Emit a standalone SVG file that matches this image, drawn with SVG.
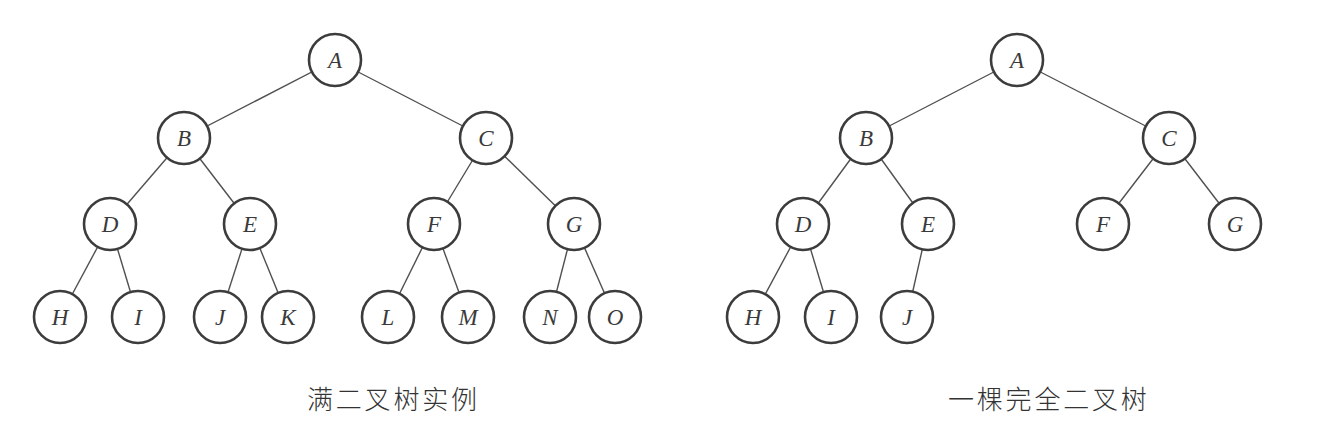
<svg xmlns="http://www.w3.org/2000/svg" width="1332" height="434" viewBox="0 0 1332 434">
<style>
.e{stroke:#505050;stroke-width:1.4;fill:none}
.n circle{fill:#fff;stroke:#3c3c3c;stroke-width:2.6}
.n text{font-family:"Liberation Serif","DejaVu Serif",serif;font-style:italic;font-size:23px;fill:#3a3a3a;text-anchor:middle;dominant-baseline:central}
.cap{font-family:"Noto Sans CJK SC","Noto Sans",sans-serif;font-size:26px;font-weight:300;fill:#333;letter-spacing:2.8px}
</style>
<rect width="1332" height="434" fill="#fff"/>
<g id="connectors">
<line class="e" x1="335" y1="60" x2="184" y2="138"/>
<line class="e" x1="335" y1="60" x2="486" y2="138"/>
<line class="e" x1="184" y1="138" x2="110" y2="224"/>
<line class="e" x1="184" y1="138" x2="250" y2="224"/>
<line class="e" x1="486" y1="138" x2="434" y2="224"/>
<line class="e" x1="486" y1="138" x2="574" y2="224"/>
<line class="e" x1="110" y1="224" x2="60" y2="317"/>
<line class="e" x1="110" y1="224" x2="138" y2="317"/>
<line class="e" x1="250" y1="224" x2="220" y2="317"/>
<line class="e" x1="250" y1="224" x2="288" y2="317"/>
<line class="e" x1="434" y1="224" x2="388" y2="317"/>
<line class="e" x1="434" y1="224" x2="468" y2="317"/>
<line class="e" x1="574" y1="224" x2="550" y2="317"/>
<line class="e" x1="574" y1="224" x2="615" y2="317"/>
<line class="e" x1="1017" y1="60" x2="866" y2="138"/>
<line class="e" x1="1017" y1="60" x2="1169" y2="138"/>
<line class="e" x1="866" y1="138" x2="803" y2="224"/>
<line class="e" x1="866" y1="138" x2="928" y2="224"/>
<line class="e" x1="1169" y1="138" x2="1103" y2="224"/>
<line class="e" x1="1169" y1="138" x2="1235" y2="224"/>
<line class="e" x1="803" y1="224" x2="753" y2="317"/>
<line class="e" x1="803" y1="224" x2="831" y2="317"/>
<line class="e" x1="928" y1="224" x2="907" y2="317"/>
</g>
<g id="L_A" class="n"><circle cx="335" cy="60" r="26"/><text x="335" y="60">A</text></g>
<g id="L_B" class="n"><circle cx="184" cy="138" r="26"/><text x="184" y="138">B</text></g>
<g id="L_C" class="n"><circle cx="486" cy="138" r="26"/><text x="486" y="138">C</text></g>
<g id="L_D" class="n"><circle cx="110" cy="224" r="26"/><text x="110" y="224">D</text></g>
<g id="L_E" class="n"><circle cx="250" cy="224" r="26"/><text x="250" y="224">E</text></g>
<g id="L_F" class="n"><circle cx="434" cy="224" r="26"/><text x="434" y="224">F</text></g>
<g id="L_G" class="n"><circle cx="574" cy="224" r="26"/><text x="574" y="224">G</text></g>
<g id="L_H" class="n"><circle cx="60" cy="317" r="26"/><text x="60" y="317">H</text></g>
<g id="L_I" class="n"><circle cx="138" cy="317" r="26"/><text x="138" y="317">I</text></g>
<g id="L_J" class="n"><circle cx="220" cy="317" r="26"/><text x="220" y="317">J</text></g>
<g id="L_K" class="n"><circle cx="288" cy="317" r="26"/><text x="288" y="317">K</text></g>
<g id="L_L" class="n"><circle cx="388" cy="317" r="26"/><text x="388" y="317">L</text></g>
<g id="L_M" class="n"><circle cx="468" cy="317" r="26"/><text x="468" y="317">M</text></g>
<g id="L_N" class="n"><circle cx="550" cy="317" r="26"/><text x="550" y="317">N</text></g>
<g id="L_O" class="n"><circle cx="615" cy="317" r="26"/><text x="615" y="317">O</text></g>
<g id="R_A" class="n"><circle cx="1017" cy="60" r="26"/><text x="1017" y="60">A</text></g>
<g id="R_B" class="n"><circle cx="866" cy="138" r="26"/><text x="866" y="138">B</text></g>
<g id="R_C" class="n"><circle cx="1169" cy="138" r="26"/><text x="1169" y="138">C</text></g>
<g id="R_D" class="n"><circle cx="803" cy="224" r="26"/><text x="803" y="224">D</text></g>
<g id="R_E" class="n"><circle cx="928" cy="224" r="26"/><text x="928" y="224">E</text></g>
<g id="R_F" class="n"><circle cx="1103" cy="224" r="26"/><text x="1103" y="224">F</text></g>
<g id="R_G" class="n"><circle cx="1235" cy="224" r="26"/><text x="1235" y="224">G</text></g>
<g id="R_H" class="n"><circle cx="753" cy="317" r="26"/><text x="753" y="317">H</text></g>
<g id="R_I" class="n"><circle cx="831" cy="317" r="26"/><text x="831" y="317">I</text></g>
<g id="R_J" class="n"><circle cx="907" cy="317" r="26"/><text x="907" y="317">J</text></g>
<text class="cap" x="307" y="409">满二叉树实例</text>
<text class="cap" x="948" y="409">一棵完全二叉树</text>
</svg>
